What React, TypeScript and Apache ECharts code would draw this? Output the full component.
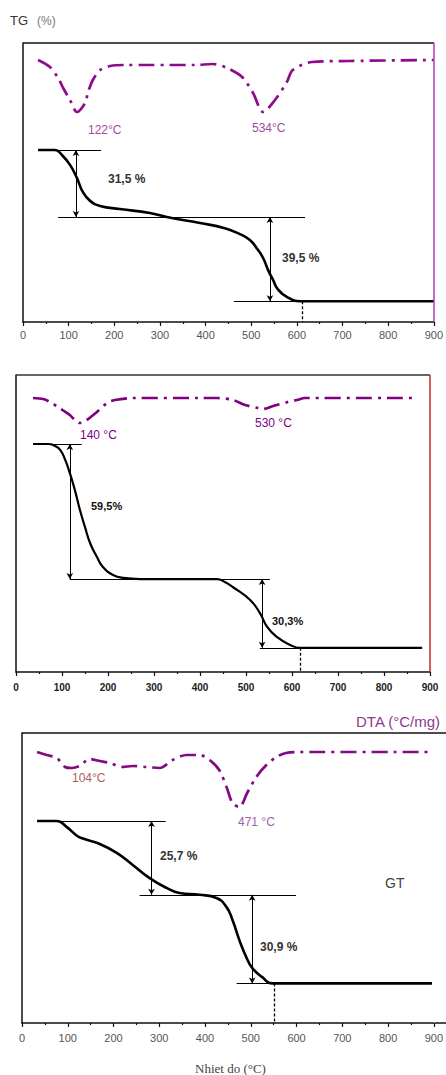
import React, { useEffect, useRef } from "react";
import * as echarts from "echarts";

// ---------- Data ----------
const xTicks = [0, 100, 200, 300, 400, 500, 600, 700, 800, 900];

// Panel 1
const tg1X = [33, 70, 85, 103, 118, 131, 147, 169, 212, 278, 315, 388, 442, 475, 497, 515, 526, 537, 548, 558, 578, 607, 900];
const tg1Y = [100, 100, 97.7, 93.0, 86.9, 80.3, 76.1, 73.7, 72.3, 70.4, 68.5, 65.7, 63.3, 60.5, 57.7, 53.0, 49.3, 43.6, 38.9, 34.7, 31.0, 29.0, 29.0];
const dta1X = [33, 59, 77, 88, 103, 118, 136, 142, 153, 169, 191, 223, 278, 322, 377, 416, 447, 480, 504, 526, 552, 578, 591, 633, 716, 900];
const dta1Y = [0, -0.7, -1.8, -2.8, -4.0, -5.2, -4.3, -3.3, -2.0, -1.0, -0.6, -0.5, -0.5, -0.5, -0.5, -0.4, -0.8, -1.7, -3.3, -5.2, -4.0, -2.2, -1.0, -0.2, -0.1, 0];
const steps1 = ["31,5 %", "39,5 %"];
const peaks1 = ["122°C", "534°C"];

// Panel 2
const tg2X = [37, 70, 85, 96, 107, 117, 128, 139, 150, 161, 176, 189, 211, 233, 270, 437, 454, 472, 509, 530, 546, 567, 596, 617, 883];
const tg2Y = [100, 100, 99.1, 97.4, 93.0, 87.2, 79.7, 70.9, 63.4, 56.4, 50.2, 45.8, 42.3, 41.0, 40.5, 40.5, 39.2, 36.9, 31.3, 25.6, 19.4, 15.0, 11.5, 10.2, 10.2];
const dta2X = [37, 59, 74, 91, 117, 130, 139, 154, 176, 198, 215, 254, 400, 437, 472, 498, 526, 537, 559, 591, 611, 628, 867];
const dta2Y = [0, -0.1, -0.4, -0.9, -1.7, -2.3, -2.5, -2.2, -1.4, -0.5, -0.2, 0, 0, 0, -0.2, -0.7, -1.0, -1.1, -0.8, -0.4, -0.2, 0, 0];
const steps2 = ["59,5%", "30,3%"];
const peaks2 = ["140 °C", "530 °C"];

// Panel 3
const tg3X = [33, 76, 98, 120, 133, 170, 207, 242, 279, 316, 344, 388, 425, 447, 460, 475, 490, 503, 525, 547, 896];
const tg3Y = [100, 100, 97.9, 94.9, 93.9, 92.0, 88.9, 84.7, 80.1, 76.7, 74.9, 74.3, 73.2, 70.0, 65.5, 58.5, 52.6, 48.8, 45.6, 43.4, 43.4];
const dta3X = [33, 54, 76, 94, 109, 126, 148, 170, 192, 218, 242, 272, 301, 329, 360, 388, 410, 431, 447, 460, 475, 492, 512, 534, 556, 577, 606, 889];
const dta3Y = [0, -0.3, -0.6, -1.5, -1.6, -1.4, -0.7, -0.9, -1.1, -1.5, -1.4, -1.5, -1.6, -0.8, -0.3, -0.3, -0.8, -1.8, -3.5, -5.1, -5.5, -4.1, -2.5, -1.3, -0.5, -0.1, 0, 0];
const steps3 = ["25,7 %", "30,9 %"];
const peaks3 = ["104°C", "471 °C"];

// annotation values: [x1, x2, y] horizontal lines; [x, y1, y2] arrows; [x, y] drop line
const hLines1 = [[33, 171, 100], [77, 618, 68.5], [462, 900, 29.0]];
const arrows1 = [[116, 100, 68.5], [541, 68.5, 29.0]];
const drop1 = [611, 29.0];
const hLines2 = [[37, 143, 100], [117, 437, 40.5], [437, 552, 40.5], [530, 620, 10.2]];
const arrows2 = [[117, 100, 40.5], [535, 40.5, 10.2]];
const drop2 = [617, 10.2];
const hLines3 = [[33, 314, 100], [257, 599, 74.3], [469, 551, 43.4]];
const arrows3 = [[283, 100, 74.3], [503, 74.3, 43.4]];
const drop3 = [551, 43.4];

const zip = (xs: number[], ys: number[]) => xs.map((x, i) => [x, ys[i]]);

export default function App() {
  const ref = useRef<HTMLDivElement>(null);
  useEffect(() => {
    if (!ref.current) return;
    const chart = echarts.init(ref.current, undefined, { renderer: "svg" });

    const panels = [
      { grid: { left: 23, top: 43, width: 411, height: 279 }, tg: [19.25, 150.2], dta: [-26.2, 1.7], labelMargin: 7, bold: false, labelSize: 11, labelColor: "#555", tgW: 2.6, dtaColor: "#8e0b8e" },
      { grid: { left: 16, top: 375, width: 414, height: 297 }, tg: [-0.44, 130.4], dta: [-27.4, 2.3], labelMargin: 10, bold: true, labelSize: 10, labelColor: "#222", tgW: 2.2, dtaColor: "#800080" },
      { grid: { left: 22, top: 733, width: 413, height: 290 }, tg: [29.6, 130.7], dta: [-27.1, 1.9], labelMargin: 9, bold: false, labelSize: 11, labelColor: "#555", tgW: 2.6, dtaColor: "#820a82" },
    ];
    const tgData = [zip(tg1X, tg1Y), zip(tg2X, tg2Y), zip(tg3X, tg3Y)];
    const dtaData = [zip(dta1X, dta1Y), zip(dta2X, dta2Y), zip(dta3X, dta3Y)];
    const hl = [hLines1, hLines2, hLines3];
    const ar = [arrows1, arrows2, arrows3];
    const dr = [drop1, drop2, drop3];

    const grid = panels.map((p) => ({ ...p.grid, containLabel: false }));
    const xAxis = panels.map((p, i) => ({
      type: "value",
      gridIndex: i,
      position: "bottom",
      min: xTicks[0],
      max: xTicks[xTicks.length - 1],
      interval: 100,
      axisLine: { show: true, onZero: false, lineStyle: { color: "#111", width: 1.5 } },
      axisTick: { show: true, inside: false, length: 4, lineStyle: { color: "#111", width: 1.2 } },
      minorTick: { show: true, splitNumber: 2, length: 2, lineStyle: { color: "#111", width: 1.2 } },
      splitLine: { show: false },
      axisLabel: {
        margin: p.labelMargin,
        fontSize: p.labelSize,
        fontFamily: "Liberation Sans, Arial, sans-serif",
        fontWeight: p.bold ? "bold" : "normal",
        color: p.labelColor,
      },
    }));
    const yAxis: any[] = [];
    panels.forEach((p, i) => {
      yAxis.push({
        type: "value",
        gridIndex: i,
        position: "left",
        min: p.tg[0],
        max: p.tg[1],
        axisLine: { show: true, onZero: false, lineStyle: { color: "#111", width: 1.5 } },
        axisTick: { show: false },
        axisLabel: { show: false },
        splitLine: { show: false },
      });
      yAxis.push({
        type: "value",
        gridIndex: i,
        position: "right",
        min: p.dta[0],
        max: p.dta[1],
        axisLine: { show: false, onZero: false },
        axisTick: { show: false },
        axisLabel: { show: false },
        splitLine: { show: false },
      });
    });

    const series: any[] = [];
    panels.forEach((p, i) => {
      const ml: any[] = [];
      hl[i].forEach(([x1, x2, y]) => {
        ml.push([{ coord: [x1, y], symbol: "none" }, { coord: [x2, y], symbol: "none" }]);
      });
      ar[i].forEach(([x, y1, y2]) => {
        ml.push([{ coord: [x, y1], symbol: "arrow" }, { coord: [x, y2], symbol: "arrow" }]);
      });
      ml.push([
        { coord: [dr[i][0], dr[i][1]], symbol: "none", lineStyle: { type: [3, 2], width: 1.3 } },
        { coord: [dr[i][0], p.tg[0]], symbol: "none" },
      ]);
      series.push({
        type: "line",
        name: "TG" + (i + 1),
        xAxisIndex: i,
        yAxisIndex: 2 * i,
        data: tgData[i],
        showSymbol: false,
        smooth: 0.5,
        lineStyle: { color: "#000", width: p.tgW },
        z: 3,
        markLine: {
          silent: true,
          animation: false,
          symbolSize: [5, 6],
          label: { show: false },
          lineStyle: { color: "#000", width: 1, type: "solid" },
          data: ml,
        },
      });
      series.push({
        type: "line",
        name: "DTA" + (i + 1),
        xAxisIndex: i,
        yAxisIndex: 2 * i + 1,
        data: dtaData[i],
        showSymbol: false,
        smooth: 0.3,
        lineStyle: { color: p.dtaColor, width: 2.7, type: [16, 6, 3, 6] },
      });
    });

    const txt = (text: string, x: number, y: number, fill: string, size: number, weight = "normal", family = "Liberation Sans, Arial, sans-serif") => ({
      type: "text",
      x,
      y,
      style: { text, fill, font: `${weight} ${size}px ${family}`, verticalAlign: "middle" },
      z: 10,
    });
    const ln = (x1: number, y1: number, x2: number, y2: number, stroke: string, w = 1.5) => ({
      type: "line",
      shape: { x1, y1, x2, y2 },
      style: { stroke, lineWidth: w },
      z: 10,
    });

    const graphic = [
      txt("TG", 10, 20, "#333", 13),
      txt("(%)", 37, 21, "#777", 12),
      txt(peaks1[0], 88, 130, "#a24ca2", 12),
      txt(peaks1[1], 252, 128, "#a24ca2", 12),
      txt(steps1[0], 108, 179, "#333", 12, "bold"),
      txt(steps1[1], 282, 258, "#333", 12, "bold"),
      ln(23, 43, 434, 43, "#111"),
      ln(434, 43, 434, 322, "#b03cb0"),

      txt(peaks2[0], 80, 435, "#800080", 12),
      txt(peaks2[1], 255, 423, "#800080", 12),
      txt(steps2[0], 91, 506, "#111", 11, "bold"),
      txt(steps2[1], 272, 621, "#111", 11, "bold"),
      ln(16, 375, 430, 375, "#333"),
      ln(430, 375, 430, 672, "#c02828"),

      txt("DTA (°C/mg)", 356, 721, "#8e3a8e", 15),
      txt(peaks3[0], 72, 778, "#a86060", 12),
      txt(peaks3[1], 238, 822, "#a060a8", 12),
      txt(steps3[0], 160, 856, "#333", 12, "bold"),
      txt(steps3[1], 260, 947, "#333", 12, "bold"),
      txt("GT", 385, 883, "#444", 14),
      txt("Nhiet do (°C)", 195, 1068, "#444", 13, "normal", "Liberation Serif, Times New Roman, serif"),
      ln(22, 733, 446, 733, "#111"),
      ln(435, 1023, 446, 1023, "#111"),
    ];

    chart.setOption({
      animation: false,
      backgroundColor: "#fff",
      grid,
      xAxis,
      yAxis,
      series,
      graphic,
    });
    return () => chart.dispose();
  }, []);
  return <div ref={ref} style={{ position: "absolute", left: 0, top: 0, width: 446, height: 1075 }} />;
}
